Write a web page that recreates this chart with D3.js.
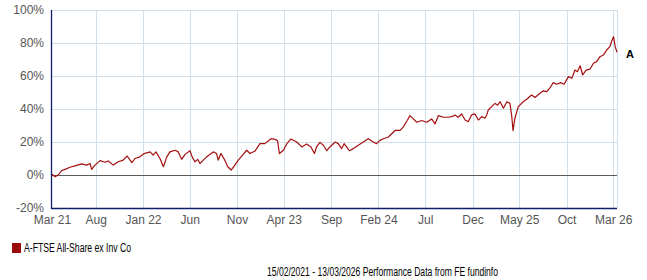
<!DOCTYPE html>
<html><head><meta charset="utf-8">
<script src="https://cdn.jsdelivr.net/npm/d3@7"></script>
<style>html,body{margin:0;padding:0;background:#fff;}svg{display:block;font-family:"Liberation Sans",Arial,sans-serif;}</style>
</head><body>
<script>
const dates = ["2021-03-13","2021-03-23","2021-04-02","2021-04-13","2021-04-24","2021-05-10","2021-05-26","2021-06-17","2021-07-03","2021-07-14","2021-07-19","2021-07-30","2021-08-15","2021-08-31","2021-09-11","2021-09-27","2021-10-13","2021-10-29","2021-11-11","2021-11-26","2021-12-06","2021-12-22","2022-01-05","2022-01-24","2022-02-03","2022-02-12","2022-02-25","2022-03-08","2022-03-19","2022-03-29","2022-04-15","2022-04-25","2022-05-06","2022-05-17","2022-06-02","2022-06-09","2022-06-18","2022-06-27","2022-07-04","2022-07-15","2022-07-26","2022-08-16","2022-08-27","2022-09-01","2022-09-10","2022-09-21","2022-10-02","2022-10-13","2022-10-25","2022-11-05","2022-11-21","2022-12-02","2022-12-13","2022-12-29","2023-01-14","2023-01-30","2023-02-19","2023-03-04","2023-03-12","2023-03-18","2023-03-31","2023-04-11","2023-04-24","2023-05-13","2023-05-29","2023-06-14","2023-06-28","2023-07-09","2023-07-16","2023-07-27","2023-08-07","2023-08-18","2023-08-28","2023-09-14","2023-09-24","2023-10-05","2023-10-13","2023-10-21","2023-10-30","2023-11-12","2023-11-28","2023-12-14","2023-12-30","2024-01-15","2024-01-26","2024-02-06","2024-02-17","2024-03-04","2024-03-15","2024-03-26","2024-04-11","2024-04-21","2024-05-04","2024-05-13","2024-05-24","2024-06-04","2024-06-20","2024-07-06","2024-07-22","2024-08-02","2024-08-13","2024-08-29","2024-09-14","2024-09-30","2024-10-05","2024-10-16","2024-10-27","2024-11-07","2024-11-17","2024-11-28","2024-12-09","2024-12-20","2024-12-31","2025-01-10","2025-01-16","2025-01-21","2025-02-01","2025-02-12","2025-02-20","2025-02-28","2025-03-11","2025-03-22","2025-04-01","2025-04-07","2025-04-11","2025-04-17","2025-04-28","2025-05-14","2025-05-25","2025-06-10","2025-06-21","2025-07-07","2025-07-18","2025-07-29","2025-08-09","2025-08-19","2025-08-30","2025-09-12","2025-09-23","2025-10-07","2025-10-18","2025-10-28","2025-11-05","2025-11-14","2025-11-22","2025-12-03","2025-12-16","2025-12-27","2026-01-06","2026-01-17","2026-01-28","2026-02-08","2026-02-18","2026-02-24","2026-03-02","2026-03-07","2026-03-13"];
const values = [0.4,-1,0,2.6,3.4,4.7,5.5,6.7,6,7,3.4,6,8.7,7.7,8.5,6,8,9,11.5,7.5,10,11,13,14,12,14,10,5,11,14,15,14,9.5,12.5,14.7,11,8,9.5,7,9,11,14,13,9,13,9.5,5,3,6,9,12.5,15,13,14.5,19,19,22,21.6,20.8,13,15,19,21.8,20,17,18.8,17,13,17,19.8,18,14.7,17,20,19,16,19,17,14.7,16,18,20,22,20,19,21,22,23,25,27,27,29,33,36,34,32,33,32,34,31,36,35,35,35.7,36.4,35,37,33.3,32.3,36.4,37,33.3,35.4,34.4,36.4,39.4,41.4,43.4,42.4,44.4,40.4,44.4,43.4,35.4,26.9,34.4,41.4,44.4,45.9,48.5,47,49.5,51,50.5,53,56,55,56,55,59.6,58.6,63.6,62.6,66.2,60.6,63.6,64.2,67.7,68.7,71.7,72.7,75.8,77.8,81.2,83.8,77.8,74.4];
const tickDates = ["2021-03-13","2021-08-01","2022-01-01","2022-06-01","2022-11-01","2023-04-01","2023-09-01","2024-02-01","2024-07-01","2024-12-01","2025-05-01","2025-10-01","2026-03-01"];
const tickLabels = ["Mar 21","Aug","Jan 22","Jun","Nov","Apr 23","Sep","Feb 24","Jul","Dec","May 25","Oct","Mar 26"];
const yTicks = [-20,0,20,40,60,80,100];
const seriesName = "A-FTSE All-Share ex Inv Co";
const seriesLabel = "A";
const footerText = "15/02/2021 - 13/03/2026 Performance Data from FE fundinfo";

const W = 647, H = 280;
const parse = d3.timeParse("%Y-%m-%d");
const data = dates.map((d,i)=>({date:parse(d), value:values[i]}));
const svg = d3.select("body").append("svg").attr("width",W).attr("height",H);

const x = d3.scaleTime().domain([parse("2021-03-13"), parse("2026-03-13")]).range([52,617]);
const y = d3.scaleLinear().domain([-20,100]).range([208,10]);

const grid = svg.append("g");
grid.selectAll("line.h").data(yTicks.filter(v=>v!==0 && v!==-20)).enter().append("line")
  .attr("x1",52).attr("x2",617).attr("y1",d=>y(d)+0.5).attr("y2",d=>y(d)+0.5)
  .attr("stroke","#d0dfe9").attr("stroke-width",1);
grid.selectAll("line.v").data(tickDates.slice(1).map(parse).concat([parse("2026-03-13")])).enter().append("line")
  .attr("x1",d=>Math.round(x(d))+0.5).attr("x2",d=>Math.round(x(d))+0.5).attr("y1",10).attr("y2",208)
  .attr("stroke","#d0dfe9").attr("stroke-width",1);

svg.append("line").attr("x1",52).attr("x2",617).attr("y1",y(0)+0.5).attr("y2",y(0)+0.5)
  .attr("stroke","#5a5a5a").attr("stroke-width",1);

const line = d3.line().x(d=>x(d.date)).y(d=>y(d.value));
svg.append("path").datum(data).attr("d",line).attr("fill","none")
  .attr("stroke","#a50f0f").attr("stroke-width",1.2).attr("stroke-linejoin","round");

svg.append("line").attr("x1",51.5).attr("x2",51.5).attr("y1",10).attr("y2",209)
  .attr("stroke","#0d1f6b").attr("stroke-width",1.3);
svg.append("line").attr("x1",51).attr("x2",617).attr("y1",208.5).attr("y2",208.5)
  .attr("stroke","#0d1f6b").attr("stroke-width",1.3);

const yAxis = d3.axisLeft(y).tickValues(yTicks).tickFormat(d=>d+"%").tickSize(0).tickPadding(0);
const ya = svg.append("g").attr("transform","translate(44,0)").call(yAxis);
ya.select(".domain").remove();
ya.selectAll("text").attr("fill","#555").attr("font-size",12).attr("font-family","Liberation Sans, Arial, sans-serif");

const xAxis = d3.axisBottom(x).tickValues(tickDates.map(parse)).tickFormat((d,i)=>tickLabels[i]).tickSize(0).tickPadding(0);
const xa = svg.append("g").attr("transform","translate(0,215)").call(xAxis);
xa.select(".domain").remove();
xa.selectAll("text").attr("fill","#555").attr("font-size",12).attr("font-family","Liberation Sans, Arial, sans-serif");

const last = data[data.length-1];
svg.append("text").attr("x",626).attr("y",y(last.value)+6).text(seriesLabel)
  .attr("font-size",11).attr("font-weight","bold").attr("fill","#000");

svg.append("rect").attr("x",12).attr("y",243).attr("width",9).attr("height",10).attr("fill","#9b0b0b");
svg.append("text").attr("x",24).attr("y",252).text(seriesName).attr("font-size",12).attr("fill","#000")
  .attr("textLength",107).attr("lengthAdjust","spacingAndGlyphs");

svg.append("text").attr("x",267).attr("y",276).text(footerText).attr("font-size",12).attr("fill","#000")
  .attr("textLength",231).attr("lengthAdjust","spacingAndGlyphs");
</script>
</body></html>
